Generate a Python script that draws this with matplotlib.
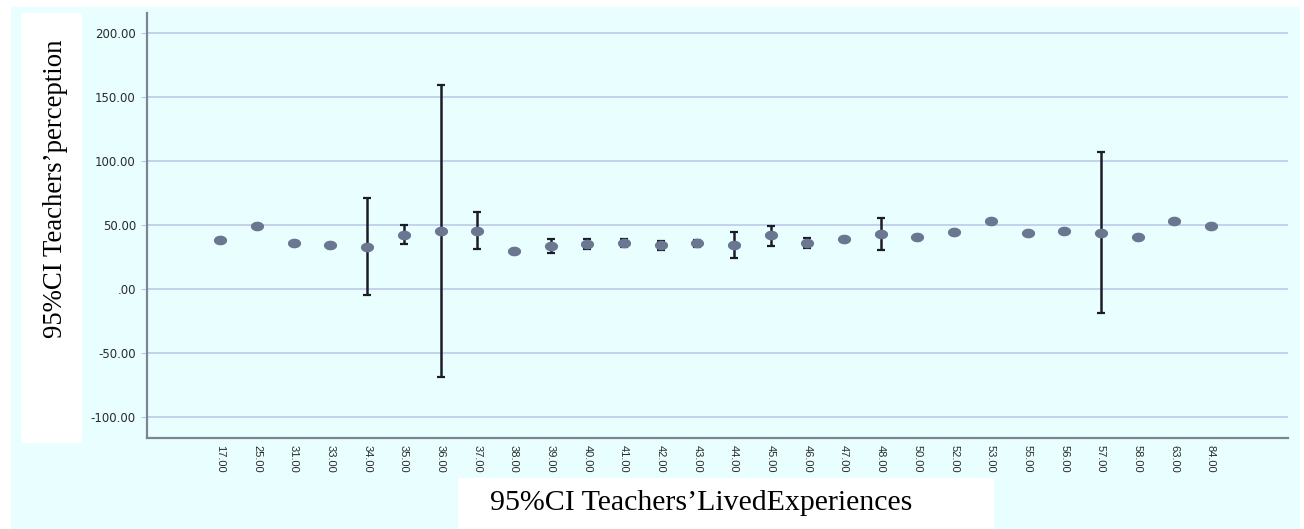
import numpy as np
import matplotlib.pyplot as plt
from matplotlib.patches import Rectangle

# categories (Teachers' lived experiences scores)
categories = ['17.00', '25.00', '31.00', '33.00', '34.00', '35.00', '36.00', '37.00',
              '38.00', '39.00', '40.00', '41.00', '42.00', '43.00', '44.00', '45.00',
              '46.00', '47.00', '48.00', '50.00', '52.00', '53.00', '55.00', '56.00',
              '57.00', '58.00', '63.00', '84.00']

# mean perception
means = [38, 49, 36, 34, 33, 42, 45.3, 45.5, 30, 33.5, 35.2, 36.2, 34.1, 35.7,
         34.4, 42, 36.2, 38.8, 43, 41, 44.3, 53, 44, 45.3, 44, 41, 53, 49]

# 95% CI bounds (nan = single case, no interval)
nan = np.nan
ci_low = [nan, nan, nan, nan, -4.7, 35, -69, 31, nan, 28.4, 31, 33, 30.5, 33,
          24, 33.8, 32.3, 37.5, 30.5, nan, nan, nan, nan, nan, -19, nan, nan, nan]
ci_high = [nan, nan, nan, nan, 71, 49.7, 159, 60, nan, 38.8, 39, 38.8, 37.5, 38.3,
           44.3, 49, 40, 40, 55.7, nan, nan, nan, nan, nan, 107, nan, nan, nan]

yticks = [-100, -50, 0, 50, 100, 150, 200]
ytick_labels = ['-100.00', '-50.00', '.00', '50.00', '100.00', '150.00', '200.00']

x = np.arange(len(categories))
means = np.array(means)
lo = np.array(ci_low)
hi = np.array(ci_high)

W, H = 1304, 529
fig = plt.figure(figsize=(W / 100, H / 100), dpi=100, facecolor='white')

# light cyan panel behind everything
fig.patches.append(Rectangle((11 / W, 0), (1300 - 11) / W, 1 - 7 / H,
                             transform=fig.transFigure, facecolor='#E9FFFF',
                             edgecolor='none', zorder=-10))

ax = fig.add_axes([147 / W, 1 - 438 / H, (1288 - 147) / W, (438 - 13) / H])
ax.set_facecolor('none')

has_ci = ~np.isnan(lo)
ax.errorbar(x[has_ci], means[has_ci],
            yerr=[means[has_ci] - lo[has_ci], hi[has_ci] - means[has_ci]],
            fmt='none', ecolor='#1c1c28', elinewidth=1.8, capsize=3.2,
            capthick=1.6, zorder=3)

t = np.linspace(0, 2 * np.pi, 40)
ellipse = np.column_stack([np.cos(t), 0.7 * np.sin(t)])
ax.plot(x, means, linestyle='none', marker=ellipse, markersize=8.5,
        color='#6B7790', markeredgecolor='#6B7790', zorder=4)

ax.set_xlim(-2, len(categories) + 1.1)
ax.set_ylim(-116.4, 215.6)

ax.set_yticks(yticks)
ax.set_yticklabels(ytick_labels, family='DejaVu Sans', fontsize=8.5, color='#2a2a2a')
ax.set_xticks(x)
ax.set_xticklabels(categories, rotation=270, family='Liberation Sans',
                   fontsize=8, color='#2a2a2a')
ax.tick_params(axis='y', length=4, color='#B9C6E6', pad=4)
ax.tick_params(axis='x', length=0, pad=5)

ax.grid(True, axis='y', color='#B9C6E6', linewidth=1.1)
ax.set_axisbelow(True)
for side in ['top', 'right']:
    ax.spines[side].set_visible(False)
for side in ['left', 'bottom']:
    ax.spines[side].set_color('#7D8492')
    ax.spines[side].set_linewidth(1.6)

# axis titles sit in white boxes
fig.patches.append(Rectangle((21 / W, 1 - 443 / H), 61 / W, 430 / H,
                             transform=fig.transFigure, facecolor='white',
                             edgecolor='none', zorder=-5))
fig.text(55 / W, 1 - 189 / H, '95%CI Teachers\u2019perception', rotation=90,
         ha='center', va='center', family='Liberation Serif', fontsize=19.3, color='black')

fig.patches.append(Rectangle((458 / W, 0), (994 - 458) / W, (529 - 478) / H,
                             transform=fig.transFigure, facecolor='white',
                             edgecolor='none', zorder=-5))
fig.text(701 / W, 1 - 510 / H, '95%CI Teachers\u2019LivedExperiences',
         ha='center', va='baseline', family='Liberation Serif', fontsize=21.5, color='black')

plt.savefig('out.png', dpi=100, facecolor=fig.get_facecolor())
